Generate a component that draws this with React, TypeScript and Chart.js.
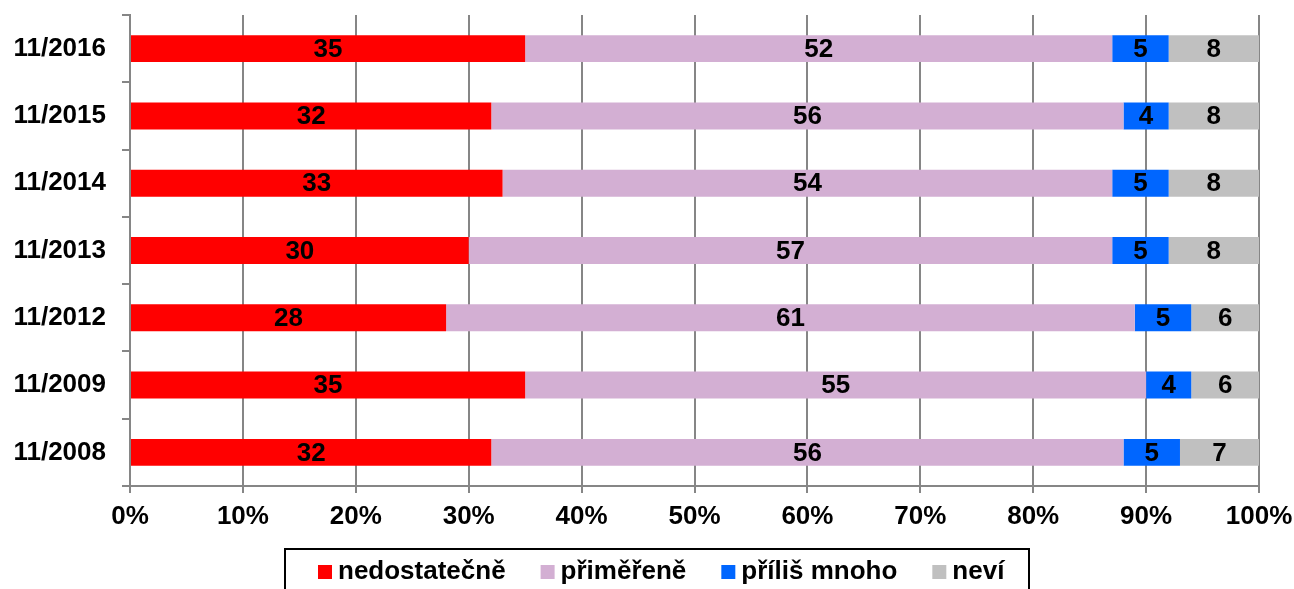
import React, { useEffect, useRef } from "react";
import { Chart, registerables } from "chart.js";

Chart.register(...registerables);

const categories = ["11/2016", "11/2015", "11/2014", "11/2013", "11/2012", "11/2009", "11/2008"];
const nedostatecne = [35, 32, 33, 30, 28, 35, 32];
const primerene = [52, 56, 54, 57, 61, 55, 56];
const prilisMnoho = [5, 4, 5, 5, 5, 4, 5];
const nevi = [8, 8, 8, 8, 6, 6, 7];
const seriesNames = ["nedostatečně", "přiměřeně", "příliš mnoho", "neví"];
const seriesColors = ["#FF0000", "#D3AFD3", "#0066FF", "#C0C0C0"];
const xTicks = [0, 10, 20, 30, 40, 50, 60, 70, 80, 90, 100];

const FONT = '"Liberation Sans", Arial, sans-serif';

const dataLabelPlugin = {
  id: "dataLabels",
  afterDatasetsDraw(chart: any) {
    const ctx = chart.ctx;
    ctx.save();
    ctx.font = `bold 26px ${FONT}`;
    ctx.fillStyle = "#000";
    ctx.textAlign = "center";
    ctx.textBaseline = "middle";
    chart.data.datasets.forEach((ds: any, di: number) => {
      const meta = chart.getDatasetMeta(di);
      meta.data.forEach((el: any, i: number) => {
        const p = el.getProps(["x", "y", "base"], true);
        const cx = (p.x + p.base) / 2;
        ctx.fillText(String(ds.data[i]), cx, p.y + 1);
      });
    });
    ctx.restore();
  },
};

const legendPlugin = {
  id: "boxLegend",
  afterDraw(chart: any) {
    const ctx = chart.ctx;
    ctx.save();
    ctx.strokeStyle = "#000";
    ctx.lineWidth = 2;
    ctx.strokeRect(285, 549, 744, 60);
    ctx.font = `bold 26px ${FONT}`;
    ctx.textBaseline = "middle";
    ctx.textAlign = "left";
    let x = 318;
    chart.data.datasets.forEach((ds: any) => {
      ctx.fillStyle = ds.backgroundColor;
      ctx.fillRect(x, 565, 14, 14);
      ctx.fillStyle = "#000";
      ctx.fillText(ds.label, x + 20, 572);
      const w = ctx.measureText(ds.label).width;
      x += 20 + w + 35;
    });
    ctx.restore();
  },
};

export default function App() {
  const ref = useRef<HTMLCanvasElement>(null);
  useEffect(() => {
    document.body.style.margin = "0";
    const seriesData = [nedostatecne, primerene, prilisMnoho, nevi];
    const chart = new Chart(ref.current!, {
      type: "bar",
      data: {
        labels: categories,
        datasets: seriesNames.map((name, i) => ({
          label: name,
          data: seriesData[i],
          backgroundColor: seriesColors[i],
          borderWidth: 0,
          barPercentage: 0.4,
          categoryPercentage: 1,
        })),
      },
      options: {
        indexAxis: "y",
        responsive: false,
        animation: false,
        layout: { padding: { top: 15, right: 35, left: 0, bottom: 0 } },
        plugins: { legend: { display: false }, tooltip: { enabled: false } },
        scales: {
          x: {
            stacked: true,
            min: 0,
            max: 100,
            afterBuildTicks: (scale: any) => {
              scale.ticks = xTicks.map((v) => ({ value: v }));
            },
            afterFit: (scale: any) => {
              scale.height = 103;
              scale.paddingLeft = 0;
              scale.paddingRight = 0;
            },
            grid: { color: "#868686", lineWidth: 2, tickLength: 7, drawTicks: true },
            border: { color: "#868686", width: 2 },
            ticks: {
              padding: 8,
              color: "#000",
              font: { family: FONT, size: 26, weight: "bold" },
              callback: (v: any) => v + "%",
            },
          },
          y: {
            stacked: true,
            afterFit: (scale: any) => {
              scale.width = 130;
              scale.paddingTop = 0;
              scale.paddingBottom = 0;
            },
            grid: { drawOnChartArea: false, color: "#868686", lineWidth: 2, tickLength: 8, offset: true },
            border: { color: "#868686", width: 2 },
            ticks: {
              padding: 16,
              color: "#000",
              font: { family: FONT, size: 26, weight: "bold" },
            },
          },
        },
      },
      plugins: [dataLabelPlugin, legendPlugin],
    } as any);
    return () => chart.destroy();
  }, []);
  return (
    <div style={{ width: 1294, height: 589 }}>
      <canvas ref={ref} width={1294} height={589} style={{ display: "block" }} />
    </div>
  );
}
